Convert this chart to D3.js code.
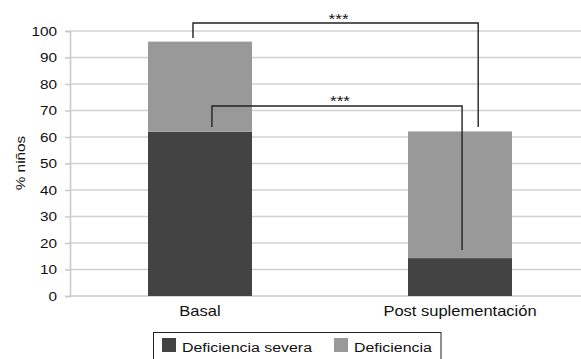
<!DOCTYPE html>
<html>
<head>
<meta charset="utf-8">
<script src="https://cdn.jsdelivr.net/npm/d3@7"></script>
<style>
  body { margin: 0; background: #fff; }
  svg { display: block; font-family: "Liberation Sans", Arial, Helvetica, sans-serif; }
</style>
</head>
<body>
<svg id="chart" width="581" height="359"></svg>
<script>
const categories = ["Basal", "Post suplementación"];
const severa = [62, 14.3];
const deficiencia = [34, 47.8];
const seriesNames = ["Deficiencia severa", "Deficiencia"];
const seriesColors = ["#434343", "#999999"];
const yTicks = [0, 10, 20, 30, 40, 50, 60, 70, 80, 90, 100];
const yLabel = "% niños";
const sigLabel = "***";
const brackets = [
  { from: 0, to: 1, fromOffset: -0.027, toOffset: 0.07, leftBottom: 97.4, top: 103, rightBottom: 63.8 },
  { from: 0, to: 1, fromOffset: 0.046, toOffset: 0.008, leftBottom: 63.8, top: 71.7, rightBottom: 17.4 }
];

const svg = d3.select("#chart");
const W = 581;
const SX = 1.18; // horizontal stretch of the reference typography
const x = d3.scaleBand().domain(categories).range([70, 590]).paddingInner(0.6).paddingOuter(0.3);
const y = d3.scaleLinear().domain([0, 100]).range([296, 31]);

function stretchedText(parent, px, py, txt, size, anchor, rotate) {
  const g = parent.append("g").attr("transform", `translate(${px},${py})` + (rotate ? ` rotate(${rotate})` : ""));
  g.append("text").attr("transform", `scale(${SX},1)`)
    .attr("text-anchor", anchor).attr("font-size", size).attr("fill", "#111").text(txt);
  return g;
}

// gridlines
svg.append("g").selectAll("line").data(yTicks.filter(d => d > 0)).join("line")
  .attr("x1", 70).attr("x2", W).attr("y1", d => y(d)).attr("y2", d => y(d))
  .attr("stroke", "#d0d0d0").attr("stroke-width", 1.5);

// y axis (line + ticks from the axis generator)
const yAxis = svg.append("g").attr("transform", "translate(70,0)")
  .call(d3.axisLeft(y).tickValues(yTicks).tickSize(5).tickFormat(""));
yAxis.select(".domain").attr("stroke", "#c8c8c8").attr("stroke-width", 1.5);
yAxis.selectAll(".tick line").attr("stroke", "#c8c8c8").attr("stroke-width", 1.5);
// y tick labels
const yl = svg.append("g");
yTicks.forEach(t => stretchedText(yl, 57, y(t) + 4.7, String(t), 13, "end"));

// x baseline
svg.append("line").attr("x1", 70).attr("x2", W).attr("y1", y(0)).attr("y2", y(0))
  .attr("stroke", "#c8c8c8").attr("stroke-width", 1.5);

// stacked bars
const rows = categories.map((c, i) => ({ cat: c, s: severa[i], d: deficiencia[i] }));
const stack = d3.stack().keys(["s", "d"])(rows);
svg.append("g").selectAll("g").data(stack).join("g")
  .attr("fill", (d, i) => seriesColors[i])
  .selectAll("rect").data(d => d).join("rect")
  .attr("x", d => x(d.data.cat)).attr("width", x.bandwidth())
  .attr("y", d => y(d[1])).attr("height", d => y(d[0]) - y(d[1]));

// x labels
const xl = svg.append("g");
categories.forEach(c => stretchedText(xl, x(c) + x.bandwidth() / 2, 315.5, c, 14, "middle"));

// y label
stretchedText(svg, 25, 163, yLabel, 13, "middle", -90);

// brackets
const bw = x.step();
brackets.forEach(b => {
  const x1 = x(categories[b.from]) + x.bandwidth() / 2 + b.fromOffset * bw;
  const x2 = x(categories[b.to]) + x.bandwidth() / 2 + b.toOffset * bw;
  const path = d3.path();
  path.moveTo(x1, y(b.leftBottom));
  path.lineTo(x1, y(b.top));
  path.lineTo(x2, y(b.top));
  path.lineTo(x2, y(b.rightBottom));
  svg.append("path").attr("d", path.toString()).attr("fill", "none")
    .attr("stroke", "#222").attr("stroke-width", 1.4);
  stretchedText(svg, (x1 + x2) / 2 + 3, y(b.top) + 0.5, sigLabel, 14.5, "middle");
});

// legend
const lg = svg.append("g");
lg.append("rect").attr("x", 153.5).attr("y", 332.5).attr("width", 287.5).attr("height", 40)
  .attr("fill", "#fff").attr("stroke", "#222").attr("stroke-width", 1);
const legendX = [162, 334];
seriesNames.forEach((n, i) => {
  lg.append("rect").attr("x", legendX[i]).attr("y", 338).attr("width", 14).attr("height", 14)
    .attr("fill", seriesColors[i]);
  stretchedText(lg, legendX[i] + 20, 351.5, n, 13.5, "start");
});
</script>
</body>
</html>
